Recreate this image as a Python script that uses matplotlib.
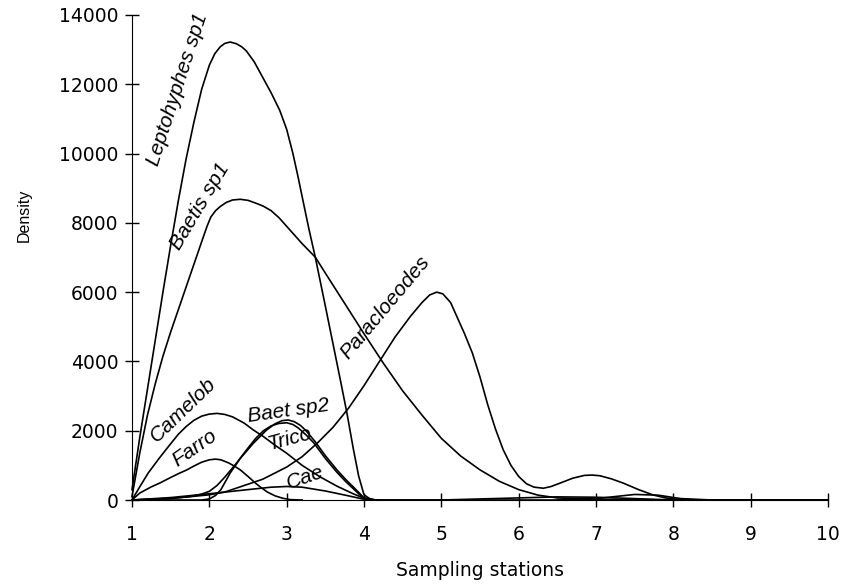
import matplotlib
matplotlib.use("Agg")
import matplotlib.pyplot as plt

# Densidad por estación
lepto_x = [1.0, 1.1, 1.2, 1.3, 1.4, 1.5, 1.6, 1.7, 1.8, 1.9, 2.0, 2.07, 2.14, 2.2, 2.27,
           2.35, 2.42, 2.48, 2.58, 2.69, 2.8, 2.91, 3.0, 3.08, 3.15, 3.21, 3.29, 3.37, 3.5, 3.6,
           3.7, 3.78, 3.86, 3.93, 4.0, 4.1, 10.0]
lepto_y = [300, 1800, 3200, 4600, 6000, 7350, 8650, 9850, 10900, 11850, 12550, 12880, 13080,
           13180, 13220, 13170, 13080, 12960, 12650, 12200, 11750, 11250, 10700, 10010, 9300, 8650,
           7800, 7010, 5600, 4500, 3400, 2500, 1500, 700, 150, 0, 0]

baetis_x = [1.0, 1.1, 1.2, 1.3, 1.4, 1.5, 1.6, 1.7, 1.8, 1.9, 1.97, 2.02, 2.08, 2.14, 2.22, 2.3, 2.4,
            2.5, 2.6, 2.7, 2.8, 2.9, 3.0, 3.1, 3.2, 3.37, 3.5, 3.6, 3.8, 4.0, 4.25, 4.5, 4.75, 5.0,
            5.25, 5.5, 5.75, 6.0, 6.25, 6.5, 7.0, 8.0, 10.0]
baetis_y = [100, 1350, 2450, 3350, 4150, 4850, 5500, 6150, 6800, 7450, 7900, 8170, 8350, 8470, 8590,
            8660, 8680, 8650, 8570, 8480, 8350, 8150, 7900, 7650, 7400, 7010, 6550, 6200, 5500, 4800,
            3950, 3150, 2450, 1780, 1270, 870, 540, 300, 140, 60, 20, 0, 0]

paraclo_x = [1.0, 1.5, 1.71, 2.0, 2.2, 2.4, 2.69, 3.0, 3.2, 3.4, 3.6, 3.8, 4.0, 4.2, 4.4, 4.6, 4.75,
             4.85, 4.94, 5.02, 5.12, 5.2, 5.3, 5.4, 5.5, 5.6, 5.7, 5.8, 5.9, 6.0, 6.1, 6.2, 6.32,
             6.42, 6.55, 6.7, 6.85, 6.95, 7.05, 7.2, 7.35, 7.55, 7.74, 7.9, 8.1, 8.5, 10.0]
paraclo_y = [0, 50, 87, 150, 230, 380, 600, 950, 1250, 1650, 2100, 2650, 3300, 4000, 4700, 5300,
             5700, 5920, 6000, 5950, 5700, 5300, 4800, 4250, 3550, 2750, 2050, 1450, 1000, 680, 470,
             370, 340, 390, 500, 630, 710, 720, 700, 610, 490, 300, 144, 60, 10, 0, 0]

camelob_x = [1.0, 1.1, 1.21, 1.35, 1.47, 1.6, 1.7, 1.8, 1.9, 2.0, 2.1, 2.2, 2.3, 2.45, 2.57, 2.7,
             2.85, 3.0, 3.2, 3.43, 3.65, 3.86, 4.0, 4.15]
camelob_y = [0, 380, 780, 1200, 1540, 1900, 2120, 2300, 2420, 2480, 2500, 2470, 2400, 2220, 2020,
             1830, 1580, 1350, 1000, 670, 400, 180, 50, 0]

farro_x = [1.0, 1.1, 1.25, 1.36, 1.5, 1.6, 1.71, 1.8, 1.9, 2.0, 2.08, 2.15, 2.25, 2.33, 2.4, 2.5,
           2.6, 2.66, 2.75, 2.85, 2.95, 3.05, 3.2]
farro_y = [0, 200, 380, 490, 650, 760, 870, 980, 1090, 1160, 1180, 1160, 1070, 970, 870, 680, 480,
           375, 230, 120, 50, 10, 0]

baet2_x = [1.0, 1.9, 2.0, 2.08, 2.15, 2.27, 2.4, 2.57, 2.74, 2.85, 2.94, 3.02, 3.1, 3.18, 3.25,
           3.37, 3.5, 3.65, 3.76, 3.86, 3.94, 4.0, 4.15]
baet2_y = [0, 0, 30, 130, 300, 780, 1200, 1640, 2020, 2200, 2290, 2310, 2260, 2150, 2000, 1680,
           1280, 870, 600, 380, 200, 60, 0]

trico_x = [1.0, 1.5, 1.75, 1.9, 2.0, 2.1, 2.2, 2.35, 2.5, 2.6, 2.7, 2.8, 2.9, 3.0, 3.08, 3.15,
           3.25, 3.35, 3.5, 3.65, 3.76, 3.86, 3.94, 4.0, 4.15]
trico_y = [0, 40, 100, 170, 250, 420, 660, 1060, 1500, 1780, 2000, 2140, 2210, 2230, 2180, 2080,
           1880, 1650, 1200, 800, 540, 330, 160, 50, 0]

cae_x = [1.0, 1.5, 2.0, 2.5, 2.8, 3.0, 3.2, 3.5, 3.8, 4.0, 4.2]
cae_y = [0, 70, 180, 300, 370, 390, 370, 260, 120, 20, 0]

# especies menores sin etiqueta
otra1_x = [4.0, 5.0, 6.0, 6.5, 7.0, 7.5, 8.0, 10.0]
otra1_y = [0, 0, 60, 90, 80, 40, 0, 0]
otra2_x = [6.5, 7.0, 7.5, 7.8, 8.1, 8.5]
otra2_y = [0, 40, 160, 140, 40, 0]

series = [(lepto_x, lepto_y), (baetis_x, baetis_y), (paraclo_x, paraclo_y),
          (camelob_x, camelob_y), (farro_x, farro_y), (baet2_x, baet2_y),
          (trico_x, trico_y), (cae_x, cae_y), (otra1_x, otra1_y), (otra2_x, otra2_y)]

# Etiquetas de las curvas: texto, x, y, ángulo
etiquetas = [("Leptohyphes sp1", 1.59, 11860, 72),
             ("Baetis sp1", 1.88, 8470, 59),
             ("Camelob", 1.66, 2600, 44),
             ("Farro", 1.815, 1500, 35),
             ("Baet sp2", 3.02, 2570, 8),
             ("Trico", 3.04, 1760, 15),
             ("Cae", 3.24, 660, 19),
             ("Paracloeodes", 4.27, 5550, 50)]

fig = plt.figure(figsize=(8.49, 5.87), dpi=100)
ax = fig.add_axes([132 / 849, 1 - 500 / 587, (828 - 132) / 849, (500 - 15) / 587])

for xs, ys in series:
    ax.plot(xs, ys, color="black", lw=1.2, clip_on=False, solid_joinstyle="round")

for txt, tx, ty, ang in etiquetas:
    ax.text(tx, ty, txt, rotation=ang, rotation_mode="anchor", ha="center", va="center",
            fontsize=15, style="italic", family="Liberation Sans")

ax.set_xlim(1, 10)
ax.set_ylim(0, 14000)
ax.set_xticks(range(1, 11))
ax.set_yticks(range(0, 14001, 2000))
ax.spines["top"].set_visible(False)
ax.spines["right"].set_visible(False)
ax.tick_params(direction="inout", length=10.5, width=1, labelsize=13.5)
ax.tick_params(axis="x", pad=13)
ax.tick_params(axis="y", pad=4.5)
ax.set_xlabel("Sampling stations", fontsize=13.5, labelpad=12)
ax.set_ylabel("Density", fontsize=11.5, family="Liberation Sans")
ax.yaxis.set_label_coords(-0.1437, 0.588)

fig.savefig("out.png", dpi=100)
